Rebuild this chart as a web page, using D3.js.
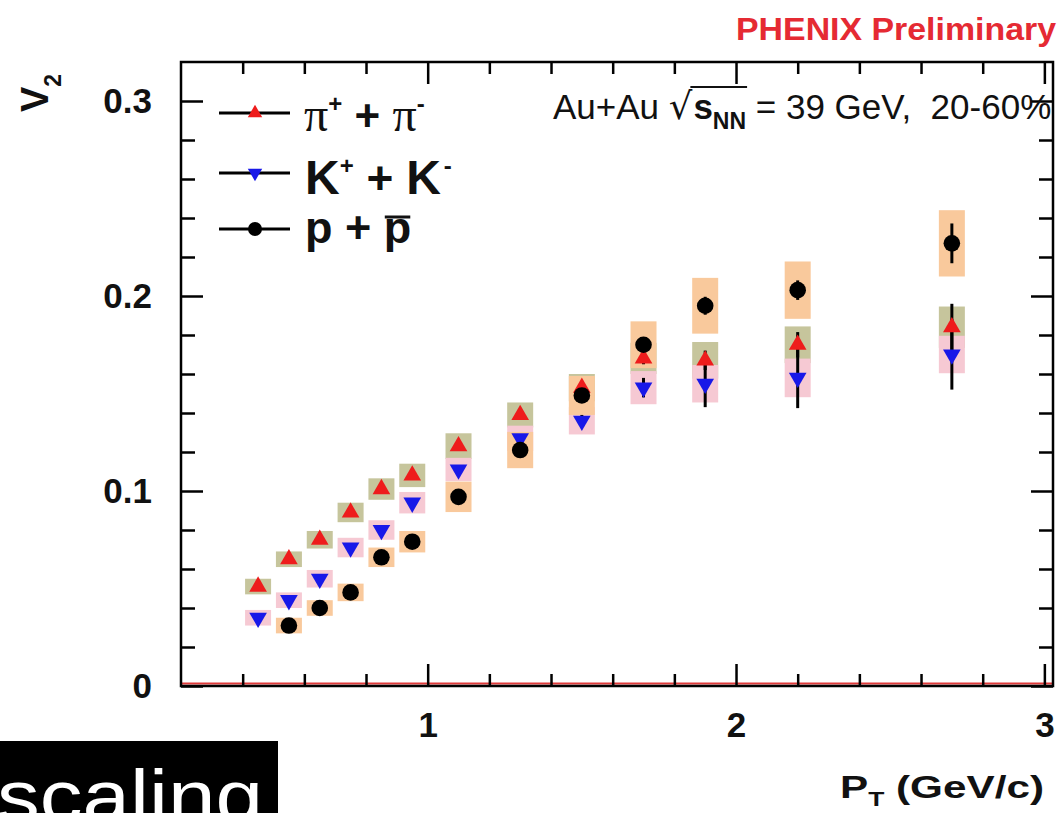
<!DOCTYPE html>
<html><head><meta charset="utf-8">
<script src="https://cdn.jsdelivr.net/npm/d3@7"></script>
<style>
body{margin:0;background:#fff;}
svg{display:block;font-family:"Liberation Sans",Arial,Helvetica,sans-serif;}
text{white-space:pre;}
</style>
</head><body><svg id="c" width="1063" height="813"></svg>
<script>
// ---------------- data ----------------
const pT_pi  = [0.45,0.55,0.65,0.75,0.85,0.95,1.1,1.3,1.5,1.7,1.9,2.2,2.7];
const v2_pi  = [0.051,0.065,0.075,0.089,0.101,0.108,0.123,0.139,0.153,0.168,0.167,0.175,0.184];
const stat_pi= [0.001,0.001,0.001,0.001,0.001,0.001,0.001,0.0015,0.002,0.003,0.005,0.0065,0.012];
const sys_pi = [0.004,0.004,0.0045,0.005,0.0055,0.006,0.0066,0.0064,0.007,0.008,0.0094,0.0094,0.0106];

const pT_K   = [0.45,0.55,0.65,0.75,0.85,0.95,1.1,1.3,1.5,1.7,1.9,2.2,2.7];
const v2_K   = [0.035,0.044,0.055,0.071,0.080,0.094,0.111,0.127,0.136,0.153,0.155,0.158,0.170];
const stat_K = [0.001,0.001,0.001,0.001,0.001,0.0015,0.0015,0.002,0.003,0.005,0.012,0.0155,0.018];
const sys_K  = [0.004,0.004,0.0045,0.005,0.005,0.0055,0.006,0.0065,0.007,0.0085,0.0096,0.0099,0.0096];

const pT_p   = [0.55,0.65,0.75,0.85,0.95,1.1,1.3,1.5,1.7,1.9,2.2,2.7];
const v2_p   = [0.031,0.040,0.048,0.066,0.074,0.097,0.121,0.149,0.175,0.195,0.203,0.227];
const stat_p = [0.001,0.001,0.001,0.001,0.001,0.0015,0.002,0.002,0.003,0.0046,0.005,0.0102];
const sys_p  = [0.004,0.004,0.0045,0.005,0.0055,0.0078,0.0093,0.010,0.012,0.0143,0.0147,0.017];

const xMajorTicks = [1,2,3];
const xMinorTicks = [0.4,0.6,0.8,1.2,1.4,1.6,1.8,2.2,2.4,2.6,2.8];
const yMajorTicks = [0,0.1,0.2,0.3];
const yMinorTicks = [0.02,0.04,0.06,0.08,0.12,0.14,0.16,0.18,0.22,0.24,0.26,0.28];
const yTickLabels = ["0","0.1","0.2","0.3"];

// ---------------- layout ----------------
const svg = d3.select("#c");
const L=181, R=1053, T=62, B=686;
const x = d3.scaleLinear().domain([0.2,3.028]).range([L,R]);
const y = d3.scaleLinear().domain([0,0.32]).range([B,T]);

const series = [
  {pT:pT_pi, v:v2_pi, stat:stat_pi, sys:sys_pi, box:"#c6c59c", col:"#ee1c1c", shape:"up"},
  {pT:pT_K,  v:v2_K,  stat:stat_K,  sys:sys_K,  box:"#f6c9d3", col:"#1818e8", shape:"down"},
  {pT:pT_p,  v:v2_p,  stat:stat_p,  sys:sys_p,  box:"#f9c99c", col:"#000000", shape:"circle"}
];
const rows = s => s.pT.map((p,i)=>({pT:p, v:s.v[i], st:s.stat[i], sy:s.sys[i]}));

// systematic boxes
series.forEach(s=>{
  svg.append("g").selectAll("rect").data(rows(s)).join("rect")
    .attr("x", d=>x(d.pT)-13).attr("width",26)
    .attr("y", d=>y(d.v+d.sy)).attr("height", d=>y(d.v-d.sy)-y(d.v+d.sy))
    .attr("fill", s.box);
});
// stat error bars
series.forEach(s=>{
  svg.append("g").selectAll("line").data(rows(s)).join("line")
    .attr("x1", d=>x(d.pT)).attr("x2", d=>x(d.pT))
    .attr("y1", d=>y(d.v-d.st)).attr("y2", d=>y(d.v+d.st))
    .attr("stroke","#000").attr("stroke-width",3);
});
// markers
const tri = d3.symbol(d3.symbolTriangle, 135);
function drawMarker(g, shape, col){
  if(shape==="circle") return g.append("circle").attr("r",8.3).attr("fill",col);
  return g.append("path").attr("d",tri()).attr("fill",col)
    .attr("transform", shape==="down" ? "rotate(180)" : null);
}
series.forEach(s=>{
  rows(s).forEach(d=>{
    const g = svg.append("g").attr("transform",`translate(${x(d.pT)},${y(d.v)})`);
    drawMarker(g, s.shape, s.col);
  });
});

// red zero line
svg.append("line").attr("x1",L).attr("x2",R).attr("y1",y(0)-2.5).attr("y2",y(0)-2.5)
  .attr("stroke","#e03a3a").attr("stroke-width",2);

// ---------------- axes (ticks inward on all sides) ----------------
function tickAxis(axisFn, scale, vals, size, tr){
  const g = svg.append("g").attr("transform",tr)
    .call(axisFn(scale).tickValues(vals).tickSize(size).tickFormat(""));
  g.select(".domain").remove();
  g.selectAll("line").attr("stroke","#000").attr("stroke-width",2.5);
}
tickAxis(d3.axisTop, x, xMinorTicks, 12, `translate(0,${B})`);
tickAxis(d3.axisTop, x, xMajorTicks, 22, `translate(0,${B})`);
tickAxis(d3.axisBottom, x, xMinorTicks, 12, `translate(0,${T})`);
tickAxis(d3.axisBottom, x, xMajorTicks, 22, `translate(0,${T})`);
tickAxis(d3.axisRight, y, yMinorTicks, 14, `translate(${L},0)`);
tickAxis(d3.axisRight, y, yMajorTicks, 22, `translate(${L},0)`);
tickAxis(d3.axisLeft, y, yMinorTicks, 14, `translate(${R},0)`);
tickAxis(d3.axisLeft, y, yMajorTicks, 22, `translate(${R},0)`);

// labels
const xl = svg.append("g").attr("transform",`translate(0,${B})`)
  .call(d3.axisBottom(x).tickValues(xMajorTicks).tickSize(0).tickPadding(26).tickFormat(d3.format("d")));
xl.select(".domain").remove();
xl.selectAll("text").style("font-size","35px").style("font-weight","bold").attr("fill","#111")
  .style("font-family","'Liberation Sans',Arial,sans-serif");
const yl = svg.append("g").attr("transform",`translate(${L},0)`)
  .call(d3.axisLeft(y).tickValues(yMajorTicks).tickSize(0).tickPadding(29).tickFormat((d,i)=>yTickLabels[i]));
yl.select(".domain").remove();
yl.selectAll("text").style("font-size","35px").style("font-weight","bold").attr("fill","#111")
  .style("font-family","'Liberation Sans',Arial,sans-serif");

// frame
svg.append("rect").attr("x",L).attr("y",T).attr("width",R-L).attr("height",B-T)
  .attr("fill","none").attr("stroke","#000").attr("stroke-width",2.5);

// ---------------- rich text helper ----------------
function rich(parent, x0, y0, parts){
  let cx = x0;
  const out=[];
  parts.forEach(p=>{
    cx += (p.pre||0);
    const t = parent.append("text").attr("x",cx).attr("y",y0+(p.dy||0))
      .style("font-size",p.fs+"px").style("font-weight",p.fw||"normal")
      .style("font-family",p.ff||"'Liberation Sans',Arial,sans-serif")
      .attr("fill",p.fill||"#111").text(p.t);
    const w = t.node().getComputedTextLength();
    out.push({x0:cx, x1:cx+w});
    cx += w + (p.gap||0);
  });
  return out;
}

// legend
const legRows = [
  {yl:113, shape:"up", col:"#ee1c1c"},
  {yl:173, shape:"down", col:"#1818e8"},
  {yl:229, shape:"circle", col:"#000"}
];
legRows.forEach(r=>{
  svg.append("line").attr("x1",219).attr("x2",290).attr("y1",r.yl).attr("y2",r.yl)
    .attr("stroke","#000").attr("stroke-width",3);
  const g = svg.append("g").attr("transform",`translate(255,${r.yl})`);
  if(r.shape==="circle") g.append("circle").attr("r",7).attr("fill",r.col);
  else g.append("path").attr("d",d3.symbol(d3.symbolTriangle,90)()).attr("fill",r.col)
        .attr("transform", r.shape==="down"?"rotate(180)":null);
});
const serif = "'Liberation Serif','DejaVu Serif',serif";
rich(svg, 304, 131, [
  {t:"π", fs:48, ff:serif},
  {t:"+", fs:24, dy:-19, fw:"bold"},
  {t:" + ", fs:44, fw:"bold"},
  {t:"π", fs:48, ff:serif},
  {t:"-", fs:24, dy:-19, fw:"bold"}
]);
rich(svg, 305, 194, [
  {t:"K", fs:48, fw:"bold"},
  {t:"+", fs:24, dy:-20, fw:"bold"},
  {t:" + ", fs:46, fw:"bold"},
  {t:"K", fs:48, fw:"bold"},
  {t:"-", fs:24, dy:-20, fw:"bold", pre:3}
]);
const pp = rich(svg, 305, 243, [
  {t:"p + ", fs:45, fw:"bold"},
  {t:"p", fs:45, fw:"bold"}
]);
svg.append("line").attr("x1",pp[1].x0+1).attr("x2",pp[1].x1-1).attr("y1",217).attr("y2",217)
  .attr("stroke","#111").attr("stroke-width",3);

// annotation (clipped at the right like the original)
svg.append("clipPath").attr("id","annclip").append("rect").attr("x",0).attr("y",0).attr("width",1057).attr("height",200);
const ag = svg.append("g").attr("clip-path","url(#annclip)");
const an = rich(ag, 553, 119, [
  {t:"Au+Au ", fs:35},
  {t:"√", fs:37, ff:"'DejaVu Sans',sans-serif", gap:1},
  {t:"s", fs:35, fw:"bold"},
  {t:"NN", fs:23, fw:"bold", dy:10},
  {t:" = 39 GeV,  20-60%", fs:35}
]);
ag.append("line").attr("x1",an[1].x1-2).attr("x2",an[3].x1+1).attr("y1",87).attr("y2",87)
  .attr("stroke","#111").attr("stroke-width",2);

// PHENIX Preliminary
svg.append("text").attr("x",736).attr("y",40).attr("textLength",320).attr("lengthAdjust","spacingAndGlyphs")
  .style("font-size","32px").style("font-weight","bold").attr("fill","#e52a33").text("PHENIX Preliminary");

// y title V2 (rotated)
const yt = svg.append("text").attr("transform","translate(48,112) rotate(-90)")
  .style("font-size","38px").style("font-weight","bold").attr("fill","#111");
yt.append("tspan").text("V");
yt.append("tspan").attr("dy",13).style("font-size","23px").text("2");

// x title
const xt = svg.append("text").attr("x",840).attr("y",798).attr("textLength",204).attr("lengthAdjust","spacingAndGlyphs")
  .style("font-size","32px").style("font-weight","bold").attr("fill","#111");
xt.append("tspan").text("P");
xt.append("tspan").attr("dy",8).style("font-size","20px").text("T");
xt.append("tspan").attr("dy",-8).text(" (GeV/c)");

// black box "scaling"
svg.append("rect").attr("x",0).attr("y",741).attr("width",278).attr("height",72).attr("fill","#000");
svg.append("text").attr("x",-3).attr("y",822).attr("textLength",266).attr("lengthAdjust","spacingAndGlyphs")
  .style("font-size","75px").attr("fill","#fff").text("scaling");
</script>
</body></html>
